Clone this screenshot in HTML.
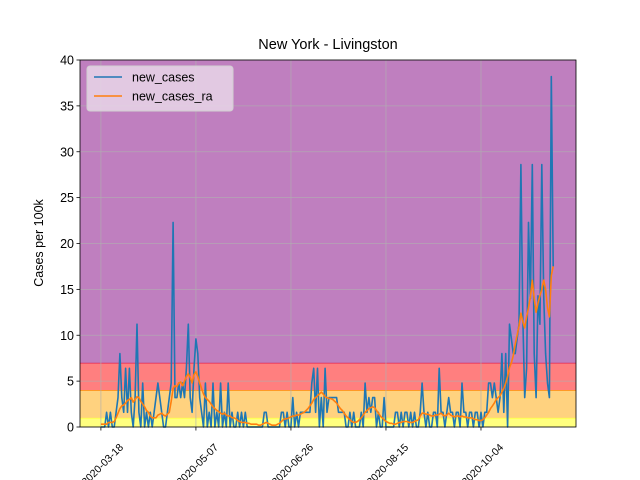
<!DOCTYPE html>
<html><head><meta charset="utf-8"><style>
body{margin:0;background:#fff}
svg{display:block;font-family:"Liberation Sans","DejaVu Sans",sans-serif}
</style></head><body>
<svg id="chart" width="640" height="480" viewBox="0 0 640 480">
<text x="328" y="49" text-anchor="middle" font-size="14.5">New York - Livingston</text>
<text transform="translate(43,243) rotate(-90)" text-anchor="middle" font-size="12.5">Cases per 100k</text>
<g id="plot"></g>
</svg>
<script>
const newCases=[0,0,0,1.6,0,1.6,0,0,1.6,3.2,
8,3.2,1.6,6.4,1.6,6.4,1.6,0,3.2,11.2,
1.6,0,4.8,0,1.6,0,1.6,0,1.6,3.2,
4.8,3.2,1.6,0,0,1.6,3.2,4.8,22.3,3.2,
3.2,4.8,3.2,4.8,3.2,6.4,11.2,3.2,1.6,6.4,
9.6,8,3.2,1.6,0,4.8,0,1.6,0,4.8,
0,1.6,0,4.8,0,1.6,0,4.8,0,1.6,
0,0,1.6,0,1.6,0,1.6,0,0,0,
0,0,0,0,0,0,1.6,1.6,0,0,
0,0,0,0,0,1.6,1.6,0,1.6,0,
0,3.2,0,1.6,0,1.6,1.6,1.6,1.6,1.6,
1.6,4.8,6.4,1.6,6.4,0,3.2,0,6.4,1.6,
3.2,3.2,3.2,3.2,3.2,1.6,1.6,1.6,1.6,0,
0,1.6,0,1.6,0,0,0,1.6,0,4.8,
1.6,3.2,1.6,3.2,3.2,0,1.6,0,0,3.2,
0,0,0,0,0,1.6,1.6,0,1.6,0,
1.6,1.6,0,1.6,0,1.6,0,0,1.6,4.8,
1.6,0,1.6,0,0,1.6,1.6,0,6.4,1.6,
1.6,0,1.6,3.2,1.6,1.6,0,1.6,1.6,0,
4.8,1.6,1.6,0,1.6,1.6,0,1.6,1.6,0,
1.6,0,1.6,1.6,4.8,4.8,3.2,4.8,3.2,1.6,
3.2,8,1.6,8,0,11.2,9.6,8,8,9.6,
11.2,28.6,12,3.2,6.4,22.3,14,28.6,8,3.2,
14.3,11.2,28.6,14.3,8,4.8,3.2,38.2,17.5];
const newCasesRa=[.3,.3,.3,.3,.5,.5,.5,.6,1,1.5,
2,2.3,2.4,2.6,2.9,3,3.2,2.7,3,3.3,
3.2,2.8,2.5,2.2,1.8,1.6,1.2,1,1,1,
1.3,1.4,1.5,1.3,1.2,1.4,1.6,2.8,4.2,4.5,
4.4,4.8,4.9,4.5,5,5.5,5.8,5.4,4.8,5.7,
6,5.5,4.8,4.2,3.6,3.2,3,2.8,2.5,2.2,
2,1.8,1.7,1.5,1.4,1.5,1.3,1.2,1.2,1,
1,.9,.7,.6,.5,.5,.5,.4,.4,.3,
.3,.3,.3,.2,.2,.3,.4,.5,.4,.3,
.2,.2,.2,.3,.4,.6,.8,.9,.9,1,
1.1,1.2,1.2,1.3,1.3,1.4,1.5,1.6,1.8,2,
2.3,2.6,3,3.2,3.4,3.6,3.8,3.6,3.3,3.2,
3.1,3.1,3,2.8,2.6,2.3,2,1.8,1.5,1.2,
1,.8,.6,.5,.5,.6,.8,1,1.3,1.6,
1.8,2,2.1,2.2,2.1,1.8,1.5,1.2,1,.8,
.6,.5,.4,.4,.3,.3,.4,.5,.5,.6,
.6,.6,.5,.5,.5,.6,.7,.8,1.2,1.5,
1.5,1.4,1.4,1.3,1.2,1.2,1.3,1.3,1.4,1.5,
1.3,1.2,1.3,1.5,1.3,1.2,1.1,1.2,1.2,1.1,
1.2,1.1,1.1,1,1,1,.9,.8,.8,.7,
.7,.8,1,1.3,1.6,2,2.3,2.6,3,3.2,
3.4,3.8,4.2,4.8,5.5,6.5,7,7.8,9,10,
11,12.4,11.5,10.8,12,13,14.2,16,14,12.5,
13.5,14.3,15,16,15,13,12,16.5,17.5];
const xTickDays=[0,50,100,150,200];
const xTickLabels=["2020-03-18","2020-05-07","2020-06-26","2020-08-15","2020-10-04"];
const yTicks=[0,5,10,15,20,25,30,35,40];
const bandEdges=[0,1,4,7,40];
const bandFills=["#ffff7f","#ffd27f","#ff7f7f","#bf7fbf"];
const bandLines=["#ffff40","#ffa500","#e02050","#a050a0"];

const L=80,R=576,T=60,B=427;
const dayMin=-11,dayMax=250;
const X=d=>L+(d-dayMin)/(dayMax-dayMin)*(R-L);
const Y=v=>B-v/40*(B-T);
const NS="http://www.w3.org/2000/svg";
const g=document.getElementById('plot');
function mk(t,a,p){const e=document.createElementNS(NS,t);for(const k in a)e.setAttribute(k,a[k]);(p||g).appendChild(e);return e;}

for(let i=0;i<bandFills.length;i++){
  const r=mk('rect',{x:L,y:Y(bandEdges[i+1]),width:R-L,height:Y(bandEdges[i])-Y(bandEdges[i+1]),fill:bandFills[i]});
  
  
  if(i<bandFills.length-1){
    const l=mk('line',{x1:L,x2:R,y1:Y(bandEdges[i+1]),y2:Y(bandEdges[i+1]),stroke:bandLines[i],'stroke-width':1.5});
    
    
  }
}
yTicks.forEach(v=>{
  const l=mk('line',{x1:L,x2:R,y1:Y(v),y2:Y(v),stroke:'#b0b0b0','stroke-width':0.8,opacity:0.8});
  
  
  const t=mk('line',{x1:L-3.5,x2:L,y1:Y(v),y2:Y(v),stroke:'#000','stroke-width':0.8});
  
  
  const tx=mk('text',{x:L-6,y:Y(v)+4.5,'text-anchor':'end','font-size':12.5});
  tx.textContent=v;
  
  
});
xTickDays.forEach((d,i)=>{
  const l=mk('line',{x1:X(d),x2:X(d),y1:T,y2:B,stroke:'#b0b0b0','stroke-width':0.8,opacity:0.8});
  
  
  const t=mk('line',{x1:X(d),x2:X(d),y1:B,y2:B+3.5,stroke:'#000','stroke-width':0.8});
  
  
  const tx=mk('text',{transform:`translate(${X(d)+4},${B+40}) rotate(-45)`,'text-anchor':'middle','font-size':10.5});
  tx.textContent=xTickLabels[i];
  
  
});
function line(arr,col,name){
  const p=mk('polyline',{points:arr.map((v,i)=>X(i).toFixed(1)+','+Y(v).toFixed(1)).join(' '),fill:'none',stroke:col,'stroke-width':1.6,'stroke-linejoin':'round'});
  
  
}
line(newCases,'#1f77b4','new-cases-line');
line(newCasesRa,'#ff7f0e','new-cases-ra-line');
const fr=mk('rect',{x:L,y:T,width:R-L,height:B-T,fill:'none',stroke:'#000','stroke-width':0.8});



const lg=mk('g',{});


mk('rect',{x:87,y:66,width:146,height:45,rx:3,fill:'#e8d6e8','fill-opacity':0.85,stroke:'#d0d0d0'},lg);
[['new_cases','#1f77b4'],['new_cases_ra','#ff7f0e']].forEach((e,i)=>{
  const y=77+i*19;
  const l=mk('line',{x1:94,x2:122,y1:y,y2:y,stroke:e[1],'stroke-width':1.6},lg);
  
  
  const t=mk('text',{x:132,y:y+4.5,'font-size':12.5},lg);
  t.textContent=e[0];
  
  
});
</script>
</body></html>
